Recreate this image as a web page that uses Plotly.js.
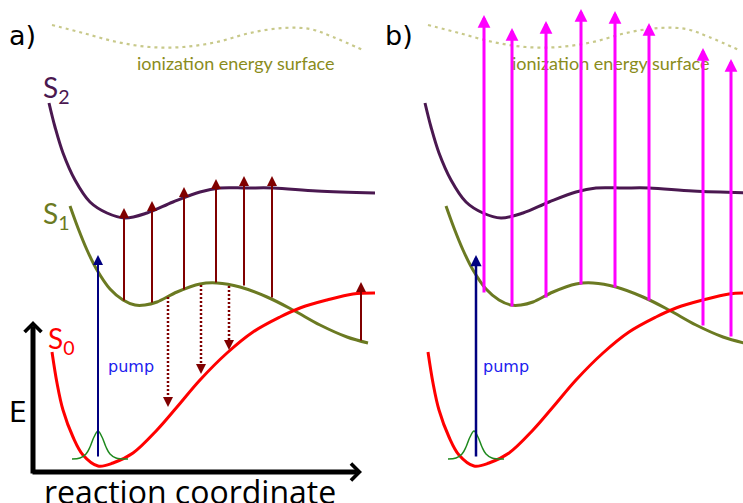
<!DOCTYPE html>
<html>
<head>
<meta charset="utf-8">
<script src="https://cdn.plot.ly/plotly-3.0.1.min.js"></script>
<style>html,body{margin:0;padding:0;background:#fff;}#chart{width:743px;height:503px;}</style>
</head>
<body>
<div id="chart"></div>
<script>
// ---- potential energy curves (panel-local units; y grows downward = lower energy) ----
const s2X = [49, 55, 63, 75, 90, 107, 125, 147, 173, 200, 220, 247, 273, 317, 375];
const s2Y = [103, 127, 153, 180, 202, 213, 218, 213, 202, 192, 188, 188, 188, 191, 193];

const s1X = [70, 78, 87, 97, 110, 123, 135, 145, 157, 177, 200, 217, 240, 267, 293, 320, 347, 368];
const s1Y = [206, 228, 250, 270, 289, 300, 305, 305, 302, 292, 284, 283, 287, 297, 310, 325, 337, 343];

const s0X = [52, 57, 63, 73, 83, 98, 113, 133, 157, 177, 200, 227, 253, 280, 300, 327, 353, 375];
const s0Y = [352, 383, 410, 437, 455, 466, 463, 453, 430, 407, 380, 353, 332, 317, 308, 300, 294, 293];

const ionX = [52, 83, 117, 150, 183, 217, 250, 283, 310, 333, 365];
const ionY = [25, 33, 42, 47, 47, 42, 33, 28, 29, 37, 51];

const gaussX = [72, 80, 86, 90, 94, 98, 102, 106, 110, 116, 128];
const gaussY = [459, 458, 454, 447, 437, 431, 437, 447, 454, 458, 459];

// ---- pump arrows: panel a, panel b ----
const pumpX = [98, 100];
const pumpTail = 457;
const pumpTip = 255;

// ---- panel a: S1 -> S2 probe arrows ----
const probeAX = [124, 152, 184, 216, 244, 272, 361];
const probeATail = [301, 303, 290, 283, 286, 298, 341];
const probeATip = [208, 201, 187, 179, 176, 176, 282];

// ---- panel a: S1 -> S0 dotted decay arrows ----
const decayX = [168, 201, 229];
const decayTop = [297, 285, 286];
const decayTip = [407, 374, 350];

// ---- panel b: ionization probe arrows ----
const ionProbeX = [108, 136, 170, 205, 239, 273, 327, 355];
const ionProbeTail = [293, 307, 298, 285, 288, 301, 326, 337];
const ionProbeTip = [15, 28, 21, 9, 11, 23, 48, 59];

// ---- axis arrows (panel a): [tail, tip] ----
const eAxisX = [33, 33];
const eAxisY = [475, 321];
const rcAxisX = [31, 362];
const rcAxisY = [472, 472];

// ---- colours ----
const cS2 = '#4a1850', cS1 = '#6b7a22', cS0 = '#ff0000';
const cIon = '#c8c98a', cIonText = '#8a8c1c';
const cProbe = '#800000', cPump = '#000080', cPumpText = '#2020ee';
const cGauss = '#1f8a1f', cMag = '#ff00ff';

const traces = [];
['x', 'x2'].forEach(xa => {
  traces.push({x: ionX, y: ionY, xaxis: xa, yaxis: 'y', mode: 'lines', line: {color: cIon, width: 2.2, dash: '3px,4px', shape: 'spline'}});
  traces.push({x: s2X, y: s2Y, xaxis: xa, yaxis: 'y', mode: 'lines', line: {color: cS2, width: 3, shape: 'spline'}});
  traces.push({x: s1X, y: s1Y, xaxis: xa, yaxis: 'y', mode: 'lines', line: {color: cS1, width: 3, shape: 'spline'}});
  traces.push({x: s0X, y: s0Y, xaxis: xa, yaxis: 'y', mode: 'lines', line: {color: cS0, width: 3, shape: 'spline'}});
  traces.push({x: gaussX, y: gaussY, xaxis: xa, yaxis: 'y', mode: 'lines', line: {color: cGauss, width: 1.5, shape: 'spline'}});
});
// dotted decay shafts
decayX.forEach((x, i) => {
  traces.push({x: [x, x], y: [decayTop[i], decayTip[i] - 6], xaxis: 'x', yaxis: 'y', mode: 'lines', line: {color: cProbe, width: 2.5, dash: '2px,2px'}});
});

function arrow(xref, x, tail, tip, color, width, head, size) {
  return {xref: xref, yref: 'y', axref: xref, ayref: 'y', x: x, y: tip, ax: x, ay: tail,
    text: '', showarrow: true, arrowhead: head, arrowsize: size, arrowwidth: width,
    arrowcolor: color, standoff: 0, startstandoff: 0, borderpad: 0};
}
function label(xref, x, y, text, font, size, color) {
  return {xref: xref, yref: 'y', x: x, y: y, text: text, showarrow: false,
    font: {family: font, size: size, color: color}, xanchor: 'center', yanchor: 'middle'};
}

const ann = [];
// text labels
ann.push(label('x', 22, 35, 'a)', 'DejaVu Sans', 27, '#000'));
ann.push(label('x2', 23, 35, 'b)', 'DejaVu Sans', 27, '#000'));
ann.push(label('x', 236, 63, 'ionization energy surface', 'Lato', 18, cIonText));
ann.push(label('x2', 235, 63, 'ionization energy surface', 'Lato', 18, cIonText));
ann.push(label('x', 56, 89, 'S<sub>2</sub>', 'Lato', 28, cS2));
ann.push(label('x', 56, 215, 'S<sub>1</sub>', 'Lato', 28, cS1));
ann.push(label('x', 61, 340, 'S<sub>0</sub>', 'Lato', 28, cS0));
ann.push(label('x', 131, 366, 'pump', 'DejaVu Sans', 16, cPumpText));
ann.push(label('x2', 130, 366, 'pump', 'DejaVu Sans', 16, cPumpText));
ann.push(label('x', 18, 412, 'E', 'DejaVu Sans', 28, '#000'));
ann.push(label('x', 190, 491, 'reaction coordinate', 'Open Sans', 32, '#000'));

// axes arrows
ann.push({xref: 'x', yref: 'y', axref: 'x', ayref: 'y', x: eAxisX[1], y: eAxisY[1], ax: eAxisX[0], ay: eAxisY[0],
  text: '', showarrow: true, arrowhead: 4, arrowsize: 0.65, arrowwidth: 5, arrowcolor: '#000', standoff: 0, startstandoff: 0});
ann.push({xref: 'x', yref: 'y', axref: 'x', ayref: 'y', x: rcAxisX[1], y: rcAxisY[1], ax: rcAxisX[0], ay: rcAxisY[0],
  text: '', showarrow: true, arrowhead: 4, arrowsize: 0.65, arrowwidth: 5, arrowcolor: '#000', standoff: 0, startstandoff: 0});

// pump arrows
ann.push(arrow('x', pumpX[0], pumpTail, pumpTip, cPump, 2, 2, 1));
ann.push(arrow('x2', pumpX[1], pumpTail, pumpTip, cPump, 2.5, 2, 0.9));

// panel a probe arrows
probeAX.forEach((x, i) => ann.push(arrow('x', x, probeATail[i], probeATip[i], cProbe, 2, 2, 1)));
// decay arrow heads
decayX.forEach((x, i) => ann.push(arrow('x', x, decayTip[i] - 8, decayTip[i], cProbe, 2, 2, 1)));
// panel b ionization arrows (drawn over the label text)
ionProbeX.forEach((x, i) => ann.push(arrow('x2', x, ionProbeTail[i], ionProbeTip[i], cMag, 3, 2, 0.85)));

const layout = {
  width: 743, height: 503,
  margin: {l: 0, r: 0, t: 0, b: 0},
  paper_bgcolor: '#fff', plot_bgcolor: 'rgba(0,0,0,0)',
  showlegend: false,
  hovermode: false,
  xaxis: {domain: [0, 376 / 743], range: [0, 376], visible: false, fixedrange: true},
  xaxis2: {domain: [376 / 743, 1], range: [0, 367], visible: false, anchor: 'y', fixedrange: true},
  yaxis: {domain: [0, 1], range: [503, 0], visible: false, fixedrange: true},
  annotations: ann
};

Plotly.newPlot('chart', traces, layout, {staticPlot: true, displayModeBar: false});
</script>
</body>
</html>
